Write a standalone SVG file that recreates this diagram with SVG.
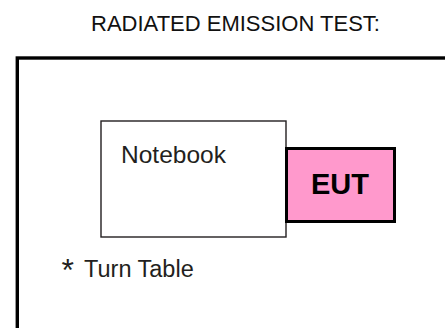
<svg xmlns="http://www.w3.org/2000/svg" width="445" height="328" viewBox="0 0 445 328">
<style>
text{font-family:"Liberation Sans",Arial,sans-serif;fill:#231f20}
.thin{fill:#fff;stroke:#231f20;stroke-width:1.4}
</style>
<rect width="445" height="328" fill="#fff"/>
<text x="235.5" y="30.5" font-size="22" text-anchor="middle" style="fill:#111">RADIATED EMISSION TEST:</text>
<g id="turntable">
<rect x="17.3" y="58" width="440" height="290" fill="none" stroke="#000" stroke-width="3.4"/>
<text x="61.5" y="281" font-size="32">*</text>
<text x="84" y="277" font-size="23.5">Turn Table</text>
</g>
<g id="connectors"></g>
<g id="notebook">
<rect class="thin" x="101" y="121" width="185" height="116"/>
<text x="121" y="163" font-size="24.5">Notebook</text>
</g>
<g id="eut">
<rect x="286.5" y="148.5" width="108" height="73" fill="#ff99cc" stroke="#000" stroke-width="3"/>
<text x="340" y="194" font-size="29" font-weight="bold" text-anchor="middle" style="fill:#000">EUT</text>
</g>
</svg>
